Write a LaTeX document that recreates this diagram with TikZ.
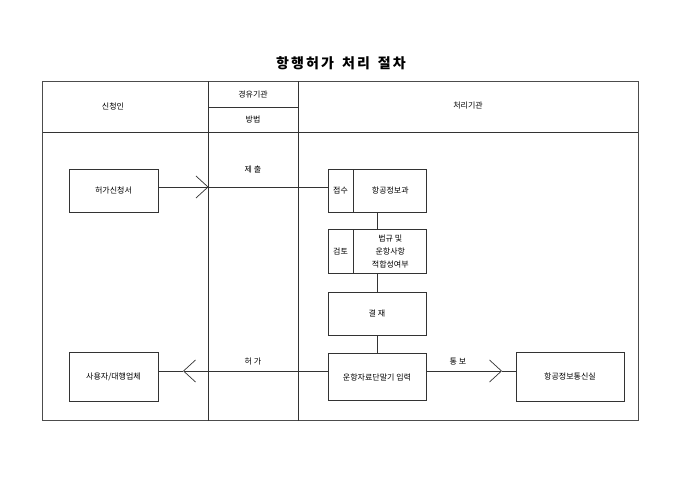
\documentclass[tikz,border=0pt]{standalone}
\usepackage{fontspec}
\setmainfont{Noto Sans CJK KR}
\usetikzlibrary{arrows.meta,positioning}

\tikzset{
  box/.style={draw=black!80,line width=0.8pt,minimum width=98pt,minimum height=43pt,
    inner sep=0pt,align=center,font=\fontsize{8}{13}\selectfont},
  tag/.style={box,minimum width=25pt},
  lbl/.style={font=\fontsize{8}{10}\selectfont},
  chev/.style={-{Straight Barb[length=12pt,width=22pt,line width=0.7pt]}},
}

\begin{document}
\begin{tikzpicture}[x=1pt,y=-1pt,line width=0.8pt,draw=black!80,node distance=18pt]
   \useasboundingbox (0,0) rectangle (680,481);
   \node[font=\fontsize{14}{16}\selectfont\bfseries\addfontfeatures{LetterSpace=15}] (title) at (341,63)
     {항행허가\hspace{8pt}처리\hspace{8pt}절차};
   % frame and lanes
   \draw[black!70] (42.5,81.5) rectangle (638,420.5);
   \draw[black!80] (42.5,132) -- (638,132)
     (208.5,81.5) -- (208.5,420.5) (298,81.5) -- (298,420.5)
     (208.5,107.5) -- (298,107.5);
   \node[lbl] (hApp)  at (113,106) {신청인};
   \node[lbl] (hVia)  at (253,95)  {경유기관};
   \node[lbl] (hWay)  at (253,120) {방법};
   \node[lbl] (hProc) at (468,106) {처리기관};
   % applicant side
   \node[box,minimum width=89pt] (apply) at (113.5,190.5) {허가신청서};
   \node[box,minimum width=89pt,minimum height=49pt] (user) at (113.5,376.5) {사용자/대행업체};
   % processing side
   \node[tag] (tag1) at (340.5,190.5) {접수};
   \node[box,minimum width=73pt,right=0pt of tag1] (recv) {항공정보과};
   \node[tag,minimum height=44pt,below=17pt of tag1] (tag2) {검토};
   \node[box,minimum width=73pt,minimum height=44pt,right=0pt of tag2] (review) {법규 및\\운항사항\\적합성여부};
   \node[box] (approve) at (377,313.5) {결 재};
   \node[box,minimum height=47pt,below=of approve] (input) {운항자료단말기 입력};
   \node[box,minimum width=108pt,minimum height=49pt] (notify) at (570,376.5) {항공정보통신실};
   \draw (review.north -| approve) -- (approve.north |- recv.south)
         (approve.north) -- (approve.north |- review.south)
         (input.north) -- (approve.south);
   % flows
   \coordinate (subTip)   at (208.5,187);
   \coordinate (grantTip) at (183,371);
   \coordinate (noteTip)  at (502,371);
   \draw[chev] (apply.east |- subTip) -- (subTip);
   \draw (subTip) -- (tag1.west |- subTip);
   \draw[chev] (input.west |- grantTip) -- (grantTip);
   \draw (grantTip) -- (user.east |- grantTip);
   \draw[chev] (input.east |- noteTip) -- (noteTip);
   \draw (noteTip) -- (notify.west |- noteTip);
   \node[lbl] (lSub)   at (253,169) {제 출};
   \node[lbl] (lGrant) at (253,362) {허 가};
   \node[lbl] (lNote)  at (458,362) {통 보};
\end{tikzpicture}
\end{document}
